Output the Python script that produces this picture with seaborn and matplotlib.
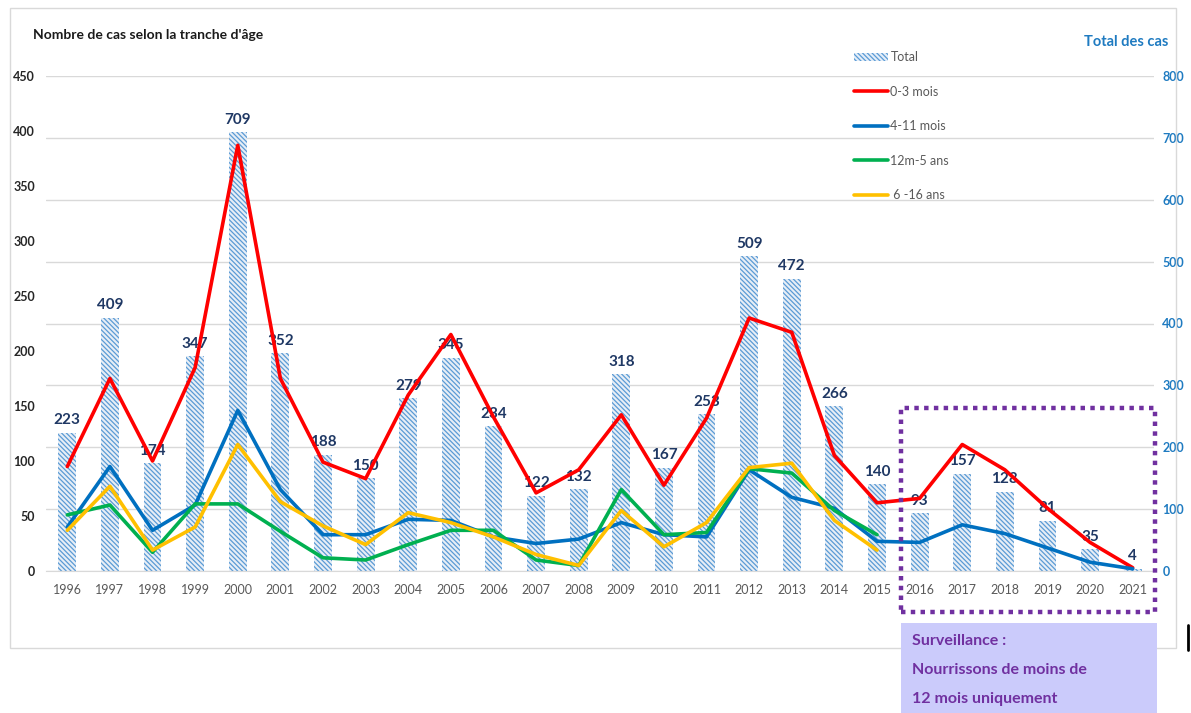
import matplotlib
matplotlib.use("Agg")
import matplotlib.pyplot as plt
from matplotlib.patches import Rectangle, Patch
from matplotlib.lines import Line2D
import seaborn as sns
import numpy as np
import pandas as pd

sns.set_style("white")
plt.rcParams['font.family'] = ['Lato', 'DejaVu Sans']
plt.rcParams['hatch.linewidth'] = 0.9

# données
years = [str(y) for y in range(1996, 2022)]
total = [223, 409, 174, 347, 709, 352, 188, 150, 279, 345, 234, 122, 132,
         318, 167, 253, 509, 472, 266, 140, 93, 157, 128, 81, 35, 4]
m0_3 = [95, 175, 100, 185, 387, 175, 99, 84, 160, 215, 140, 71, 92,
        142, 78, 139, 230, 217, 105, 62, 66, 115, 92, 57, 26, 3]
m4_11 = [40, 95, 37, 60, 146, 74, 33, 33, 47, 46, 31, 25, 29,
         44, 33, 31, 92, 67, 57, 27, 26, 42, 34, 21, 8, 2]
m12_5a = [51, 60, 17, 61, 61, 36, 12, 10, 24, 37, 37, 10, 5,
          74, 33, 35, 93, 89, 55, 33]
a6_16 = [37, 77, 19, 40, 115, 63, 41, 24, 53, 44, 31, 15, 5,
         55, 22, 44, 94, 98, 46, 19]

W, H = 1191, 713
HATCH = "\\\\\\\\\\\\\\"
fig = plt.figure(figsize=(W / 100, H / 100), dpi=100)
ax = fig.add_axes([46 / W, 1 - 571 / H, 1108 / W, 495 / H])
ax2 = ax.twinx()

# barres (axe secondaire)
sns.barplot(x=years, y=total, ax=ax2, color="#e4eef9", width=0.42,
            edgecolor="#5b9bd5", linewidth=0, hatch=HATCH, zorder=2)
ax2.bar_label(ax2.containers[0], padding=4, fontsize=11, fontweight="bold",
              color="#1f3864")
ax2.set_ylim(0, 800)
ax2.set_yticks(range(0, 801, 100))
ax2.yaxis.grid(True, color="#d9d9d9", linewidth=1, zorder=0)
ax2.set_axisbelow(True)
ax2.tick_params(axis="y", length=0, pad=6, labelsize=9, labelcolor="#1f7bc1")
for t in ax2.get_yticklabels():
    t.set_fontweight("bold")
ax2.set_ylabel("")

# courbes (axe principal, au-dessus des barres)
pos = np.arange(len(years))
series = [("0-3 mois", m0_3, "#ff0000"), ("4-11 mois", m4_11, "#0070c0"),
          ("12m-5 ans", m12_5a, "#00b050"), (" 6 -16 ans", a6_16, "#ffc000")]
for name, vals, col in series:
    sns.lineplot(x=pos[:len(vals)], y=vals, ax=ax, color=col, linewidth=2.6,
                 legend=False)

ax.set_zorder(ax2.get_zorder() + 1)
ax.patch.set_visible(False)
ax.set_xlim(-0.5, len(years) - 0.5)
ax.set_ylim(0, 450)
ax.set_yticks(range(0, 451, 50))
ax.set_xticks(pos)
ax.set_xticklabels(years)
ax.tick_params(axis="y", length=0, pad=8, labelsize=9, labelcolor="#262626")
ax.tick_params(axis="x", length=0, pad=9, labelsize=9, labelcolor="#595959")
for t in ax.get_yticklabels():
    t.set_fontweight("bold")
ax2.tick_params(axis="x", length=0)

for a in (ax, ax2):
    for s in a.spines.values():
        s.set_visible(False)
ax.spines["bottom"].set_visible(True)
ax.spines["bottom"].set_color("#d9d9d9")

# légende
handles = [Patch(facecolor="#e4eef9", edgecolor="#5b9bd5", linewidth=0,
                 hatch=HATCH, label="Total")]
handles += [Line2D([], [], color=c, linewidth=2.6, label=n) for n, _, c in series]
fig.legend(handles=handles, loc="upper left", bbox_to_anchor=(843 / W, 1 - 40 / H),
           frameon=False, fontsize=9, labelcolor="#595959", labelspacing=1.8,
           handlelength=2.7, handletextpad=0.2)

# titres
fig.text(33 / W, 1 - 35 / H, "Nombre de cas selon la tranche d'âge",
         fontsize=10, fontweight="bold", color="#1a1a1a", va="center")
fig.text(1168 / W, 1 - 42 / H, "Total des cas", fontsize=10.5,
         fontweight="bold", color="#1f7bc1", va="center", ha="right")

# cadre du graphique
fig.patches.append(Rectangle((10 / W, 1 - 648 / H), 1166 / W, 640 / H,
                             transform=fig.transFigure, fill=False,
                             edgecolor="#d9d9d9", linewidth=1))
fig.add_artist(Line2D([1188 / W, 1188 / W], [1 - 650 / H, 1 - 625 / H],
                      transform=fig.transFigure, color="black", linewidth=2))

# zone surveillance
fig.patches.append(Rectangle((901 / W, 1 - 612 / H), 254 / W, 204 / H,
                             transform=fig.transFigure, fill=False,
                             edgecolor="#7030a0", linewidth=3.2,
                             linestyle=(0, (1, 1.2)), zorder=10))
fig.patches.append(Rectangle((901 / W, 0), 256 / W, 90 / H,
                             transform=fig.transFigure, facecolor="#cbcbfb",
                             edgecolor="none", zorder=10))
for i, line in enumerate(["Surveillance :", "Nourrissons de moins de",
                          "12 mois uniquement"]):
    fig.text(912 / W, 1 - (641 + i * 29) / H, line, fontsize=11.5,
             fontweight="bold", color="#7030a0", va="center", zorder=11)

plt.savefig("out.png", dpi=100)
